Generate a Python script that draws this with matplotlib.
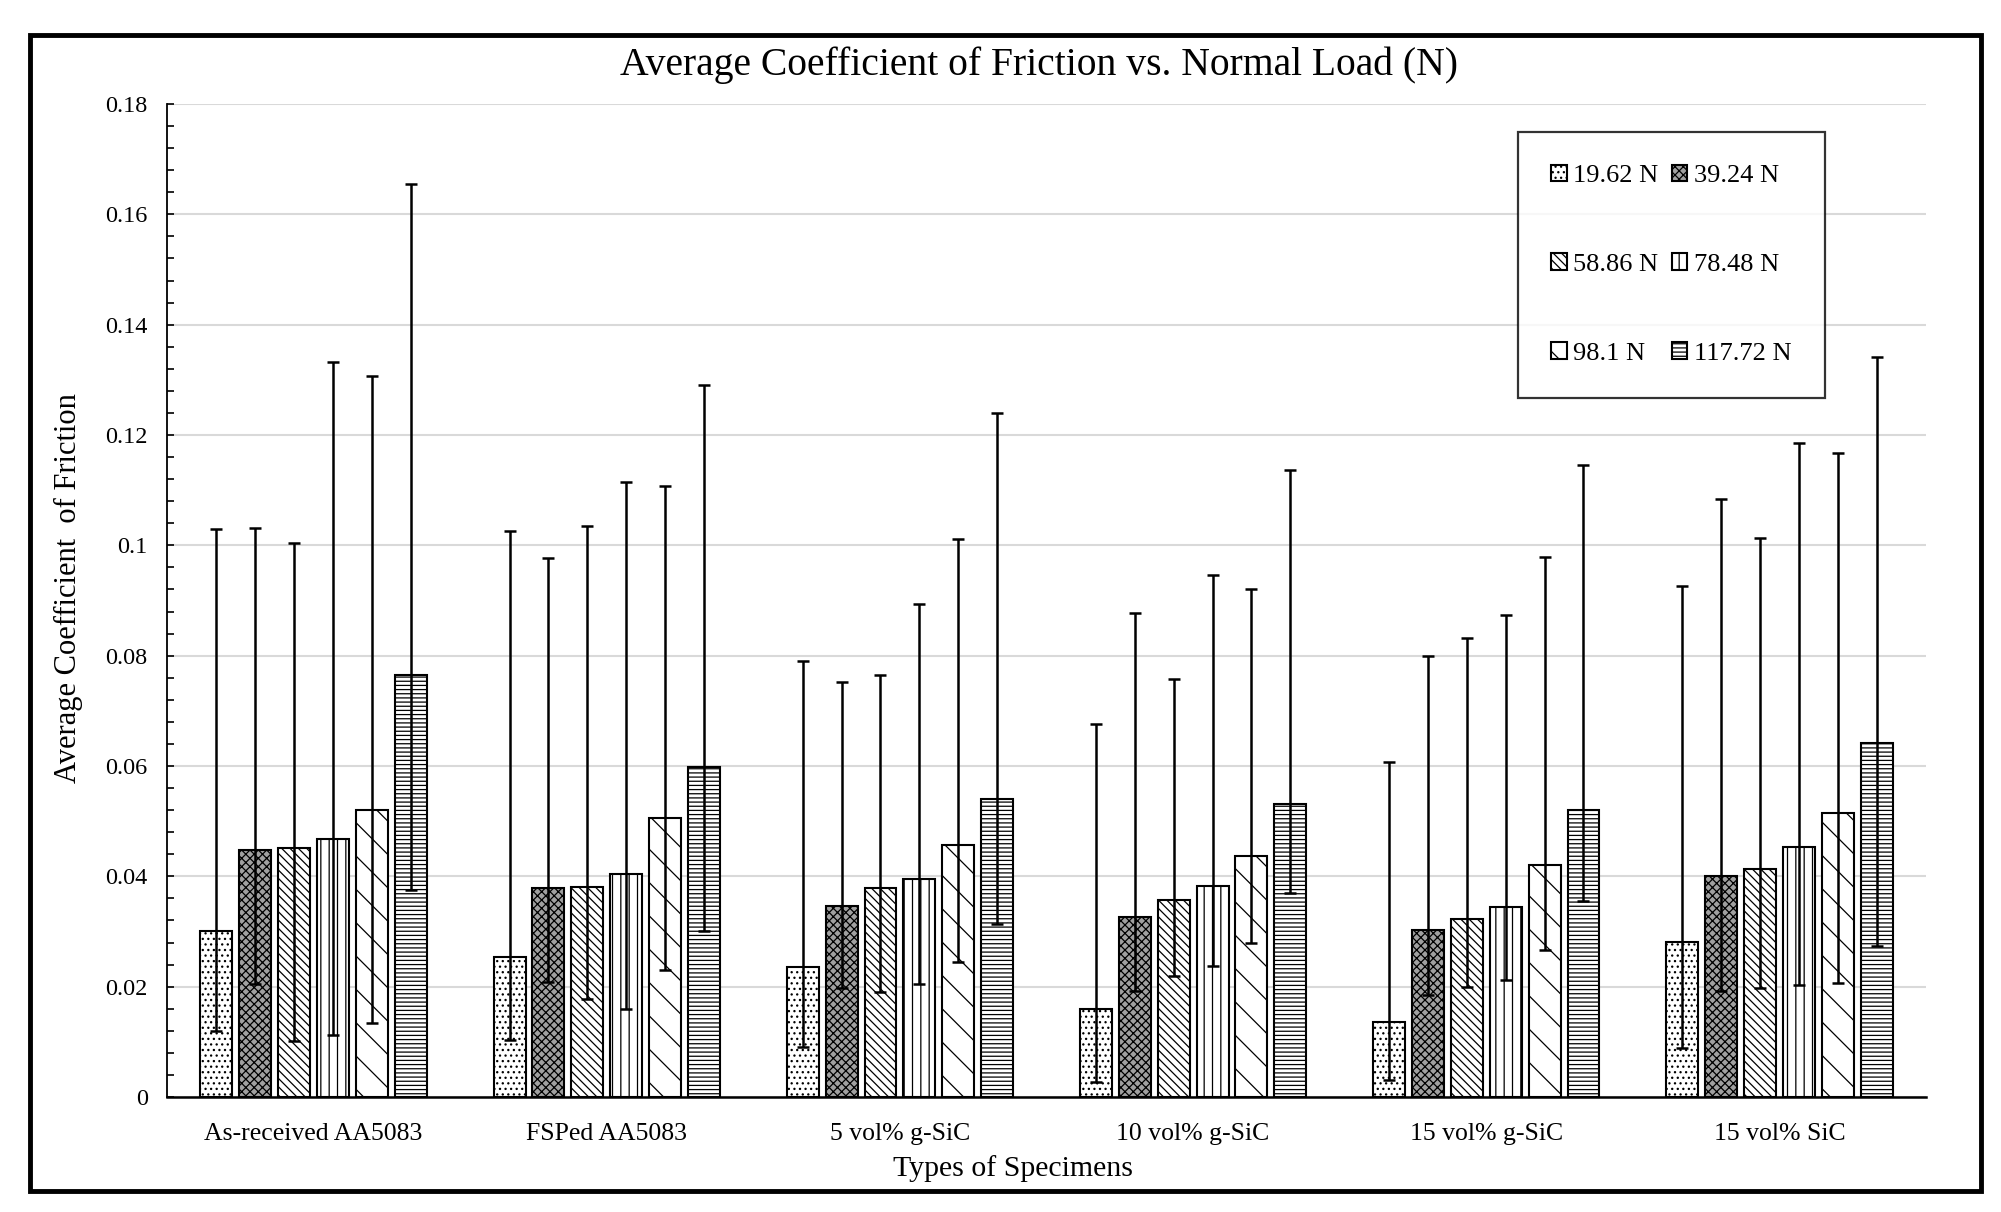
import matplotlib
matplotlib.use("Agg")
from matplotlib import pyplot as plt
from matplotlib.patches import Rectangle
from matplotlib.ticker import MultipleLocator
import numpy as np

plt.rcParams['font.family'] = ['Liberation Serif', 'DejaVu Serif']
plt.rcParams['hatch.linewidth'] = 0.9

# specimen types on the x axis
specimens = ['As-received AA5083', 'FSPed AA5083', '5 vol% g-SiC',
             '10 vol% g-SiC', '15 vol% g-SiC', '15 vol% SiC']

loads = ['19.62 N', '39.24 N', '58.86 N', '78.48 N', '98.1 N', '117.72 N']

# mean coefficient of friction, one list per load
cof_19 = [0.0300, 0.0253, 0.0235, 0.0159, 0.0136, 0.0281]
cof_39 = [0.0447, 0.0379, 0.0346, 0.0326, 0.0302, 0.0401]
cof_58 = [0.0452, 0.0380, 0.0379, 0.0357, 0.0322, 0.0413]
cof_78 = [0.0467, 0.0404, 0.0396, 0.0382, 0.0345, 0.0453]
cof_98 = [0.0520, 0.0505, 0.0456, 0.0436, 0.0421, 0.0515]
cof_117 = [0.0765, 0.0599, 0.0541, 0.0531, 0.0520, 0.0641]

# upper end of the error bars
hi_19 = [0.1029, 0.1026, 0.0790, 0.0676, 0.0608, 0.0926]
hi_39 = [0.1032, 0.0977, 0.0753, 0.0878, 0.0799, 0.1084]
hi_58 = [0.1004, 0.1035, 0.0765, 0.0757, 0.0832, 0.1014]
hi_78 = [0.1332, 0.1114, 0.0893, 0.0947, 0.0874, 0.1185]
hi_98 = [0.1307, 0.1108, 0.1011, 0.0921, 0.0978, 0.1168]
hi_117 = [0.1655, 0.1291, 0.1240, 0.1137, 0.1145, 0.1342]

# lower end of the error bars
lo_19 = [0.0119, 0.0104, 0.0091, 0.0027, 0.0030, 0.0088]
lo_39 = [0.0205, 0.0209, 0.0198, 0.0192, 0.0185, 0.0192]
lo_58 = [0.0102, 0.0178, 0.0190, 0.0219, 0.0200, 0.0198]
lo_78 = [0.0113, 0.0159, 0.0204, 0.0238, 0.0212, 0.0203]
lo_98 = [0.0135, 0.0231, 0.0244, 0.0280, 0.0266, 0.0207]
lo_117 = [0.0375, 0.0300, 0.0313, 0.0370, 0.0355, 0.0273]

means = [cof_19, cof_39, cof_58, cof_78, cof_98, cof_117]
highs = [hi_19, hi_39, hi_58, hi_78, hi_98, hi_117]
lows = [lo_19, lo_39, lo_58, lo_78, lo_98, lo_117]

hatches = ['...', 'xxxx', '\\\\\\\\', '||', '\\', '----']
faces = ['white', '#a0a0a0', 'white', 'white', 'white', 'white']

fig = plt.figure(figsize=(20.01, 12.12), dpi=100)
ax = fig.add_axes([0.0835, 0.0949, 0.8790, 0.8193])

x = np.arange(len(specimens))
slot = 0.1327
width = 0.109

bars = []
for i in range(len(loads)):
    pos = x + (i - 2.5) * slot
    m = np.array(means[i])
    err = [m - np.array(lows[i]), np.array(highs[i]) - m]
    b = ax.bar(pos, m, width, facecolor=faces[i], edgecolor='black',
               linewidth=1.5, hatch=hatches[i], label=loads[i], zorder=2)
    ax.errorbar(pos, m, yerr=err, fmt='none', ecolor='black',
                elinewidth=1.8, capsize=4.5, capthick=1.8, zorder=3)
    bars.append(b)

ax.set_xlim(-0.5, len(specimens) - 0.5)
ax.set_ylim(0, 0.18)
ax.yaxis.set_major_locator(MultipleLocator(0.02))
ax.yaxis.set_minor_locator(MultipleLocator(0.004))
ax.set_yticks(np.arange(0, 0.181, 0.02))
ax.set_yticklabels(['0', '0.02', '0.04', '0.06', '0.08', '0.1',
                    '0.12', '0.14', '0.16', '0.18'])
ax.tick_params(axis='y', which='both', direction='in', length=5,
               width=1.2, labelsize=17.5, pad=14)
ax.set_xticks(x)
ax.set_xticklabels(specimens)
ax.tick_params(axis='x', length=0, labelsize=18.5, pad=19)

ax.grid(axis='y', color='#d9d9d9', linewidth=1.5, zorder=0)
ax.set_axisbelow(True)
for s in ['top', 'right']:
    ax.spines[s].set_visible(False)
ax.spines['left'].set_linewidth(1.3)
ax.spines['bottom'].set_linewidth(1.8)

fig.text(0.519, 0.946, 'Average Coefficient of Friction vs. Normal Load (N)',
         ha='center', va='center', fontsize=28.5)
fig.text(0.506, 0.036, 'Types of Specimens', ha='center', va='center',
         fontsize=21.5)
fig.text(0.034, 0.515, 'Average Coefficient  of Friction', ha='center',
         va='center', rotation=90, fontsize=22)

order = [0, 2, 4, 1, 3, 5]
leg = fig.legend([bars[k] for k in order], [loads[k] for k in order],
                 loc='upper left', bbox_to_anchor=(0.7585, 0.8913), ncol=2,
                 fontsize=19, frameon=True, fancybox=False, edgecolor='black',
                 handlelength=0.6, handleheight=0.6, handletextpad=0.25,
                 columnspacing=0.5, labelspacing=2.5, borderpad=1.25,
                 borderaxespad=0)
leg.get_frame().set_linewidth(1.6)

fig.patches.append(Rectangle((0.015, 0.017), 0.975, 0.954,
                             transform=fig.transFigure, fill=False,
                             edgecolor='black', linewidth=3.5))

fig.savefig('out.png', dpi=100)
